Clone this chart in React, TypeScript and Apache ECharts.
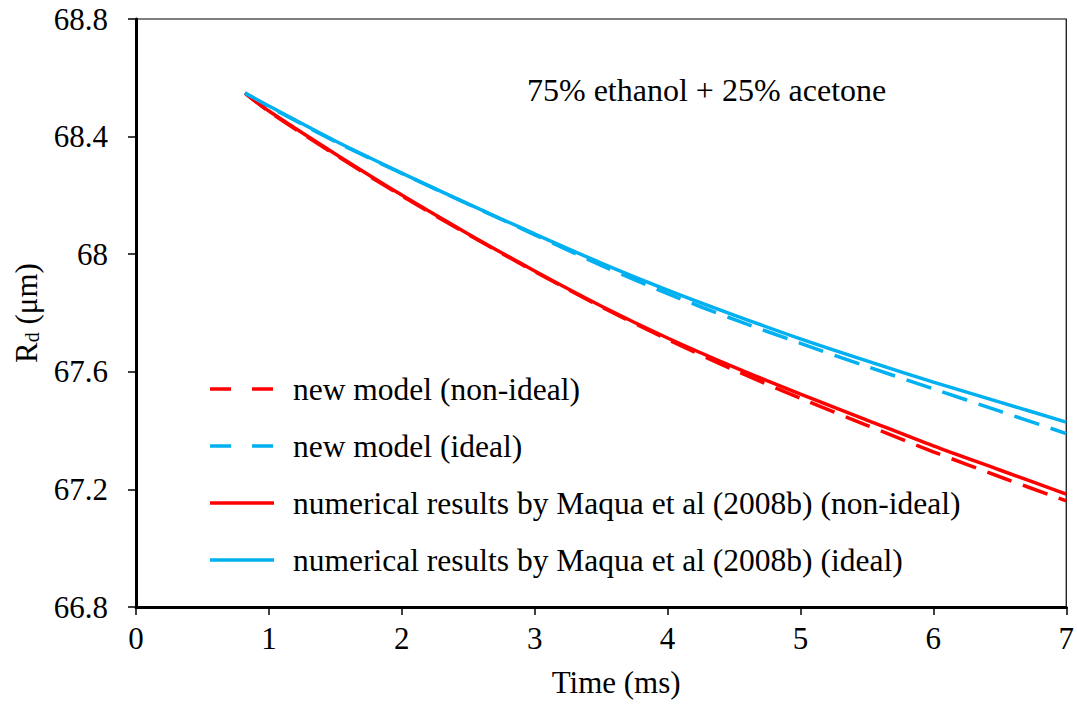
import React, { useEffect, useRef } from "react";
import * as echarts from "echarts";

// Time (ms) sample points
const timeMs = [0.82, 1, 1.5, 2, 2.5, 3, 3.5, 4, 4.5, 5, 5.5, 6, 6.5, 7];

// Droplet radius R_d (µm)
const newModelNonIdeal = [68.548, 68.485, 68.338, 68.198, 68.067, 67.941, 67.821, 67.71, 67.606, 67.51, 67.418, 67.328, 67.243, 67.161];
const newModelIdeal = [68.548, 68.502, 68.383, 68.275, 68.17, 68.066, 67.962, 67.866, 67.778, 67.697, 67.618, 67.542, 67.466, 67.39];
const maquaNonIdeal = [68.548, 68.487, 68.341, 68.201, 68.069, 67.943, 67.824, 67.715, 67.616, 67.524, 67.436, 67.348, 67.266, 67.184];
const maquaIdeal = [68.548, 68.504, 68.385, 68.276, 68.171, 68.069, 67.97, 67.878, 67.793, 67.712, 67.637, 67.565, 67.497, 67.429];

const seriesNames = [
  "new model (non-ideal)",
  "new model (ideal)",
  "numerical results by Maqua et al (2008b) (non-ideal)",
  "numerical results by Maqua et al (2008b) (ideal)",
];

const RED = "#ff0000";
const BLUE = "#00b0f0";
const FONT = "Liberation Serif";

const pairs = (ys: number[]) => timeMs.map((t, i) => [t, ys[i]]);

// hand-drawn legend: one row per series
const legendRows = [
  { name: seriesNames[0], color: RED, dash: [21, 21] },
  { name: seriesNames[1], color: BLUE, dash: [21, 21] },
  { name: seriesNames[2], color: RED, dash: null },
  { name: seriesNames[3], color: BLUE, dash: null },
];

export default function App() {
  const ref = useRef<HTMLDivElement>(null);

  useEffect(() => {
    if (!ref.current) return;
    const chart = echarts.init(ref.current, undefined, { renderer: "svg" });

    const mkSeries = (name: string, data: number[], color: string, dashed: boolean) => ({
      name,
      type: "line",
      data: pairs(data),
      smooth: 0.3,
      symbol: "none",
      lineStyle: { color, width: 3.5, type: dashed ? [26, 12] : "solid" },
      itemStyle: { color },
    });

    const legendGraphics = legendRows.map((row, i) => {
      const cy = 389 + i * 57;
      return {
        type: "group",
        children: [
          {
            type: "line",
            shape: { x1: 210, y1: cy, x2: 274, y2: cy },
            style: { stroke: row.color, lineWidth: 3.5, lineDash: row.dash || undefined },
          },
          {
            type: "text",
            x: 293,
            y: cy,
            style: {
              text: row.name,
              fontFamily: FONT,
              fontSize: 31.5,
              fill: "#000",
              textVerticalAlign: "middle",
              verticalAlign: "middle",
            },
          },
        ],
      };
    });

    chart.setOption({
      animation: false,
      backgroundColor: "#ffffff",
      textStyle: { fontFamily: FONT },
      title: {
        text: "75% ethanol + 25% acetone",
        left: 522,
        top: 69,
        textStyle: { fontFamily: FONT, fontSize: 32, fontWeight: "normal", color: "#000" },
      },
      grid: {
        left: 136,
        right: 9,
        top: 19,
        bottom: 97,
        show: true,
        borderColor: "#000",
        borderWidth: 1.2,
      },
      graphic: legendGraphics,
      xAxis: {
        type: "value",
        min: 0,
        max: 7,
        interval: 1,
        name: "Time (ms)",
        nameLocation: "middle",
        nameGap: 60,
        nameTextStyle: { fontFamily: FONT, fontSize: 31, color: "#000", padding: [0, 0, 0, 30] },
        axisLine: { show: true, lineStyle: { color: "#000", width: 3 } },
        axisTick: { show: true, inside: false, length: 8, lineStyle: { color: "#000", width: 1.5 } },
        axisLabel: { fontFamily: FONT, fontSize: 31, color: "#000", margin: 16 },
        splitLine: { show: false },
      },
      yAxis: {
        type: "value",
        min: 66.8,
        max: 68.8,
        interval: 0.4,
        name: "R{sub|d} (μm)",
        nameLocation: "middle",
        nameRotate: 90,
        nameGap: 94,
        nameTextStyle: {
          fontFamily: FONT,
          fontSize: 31,
          color: "#000",
          rich: {
            sub: { fontFamily: FONT, fontSize: 20, color: "#000", verticalAlign: "bottom", padding: [12, 0, 0, 0] },
          },
        },
        axisLine: { show: true, lineStyle: { color: "#000", width: 3 } },
        axisTick: { show: true, inside: false, length: 8, lineStyle: { color: "#000", width: 1.5 } },
        axisLabel: { fontFamily: FONT, fontSize: 31, color: "#000", margin: 28 },
        splitLine: { show: false },
      },
      series: [
        mkSeries(seriesNames[0], newModelNonIdeal, RED, true),
        mkSeries(seriesNames[1], newModelIdeal, BLUE, true),
        mkSeries(seriesNames[2], maquaNonIdeal, RED, false),
        mkSeries(seriesNames[3], maquaIdeal, BLUE, false),
      ],
    });

    return () => chart.dispose();
  }, []);

  return (
    <div
      ref={ref}
      style={{ position: "fixed", left: 0, top: 0, width: 1077, height: 704, background: "#fff" }}
    />
  );
}
